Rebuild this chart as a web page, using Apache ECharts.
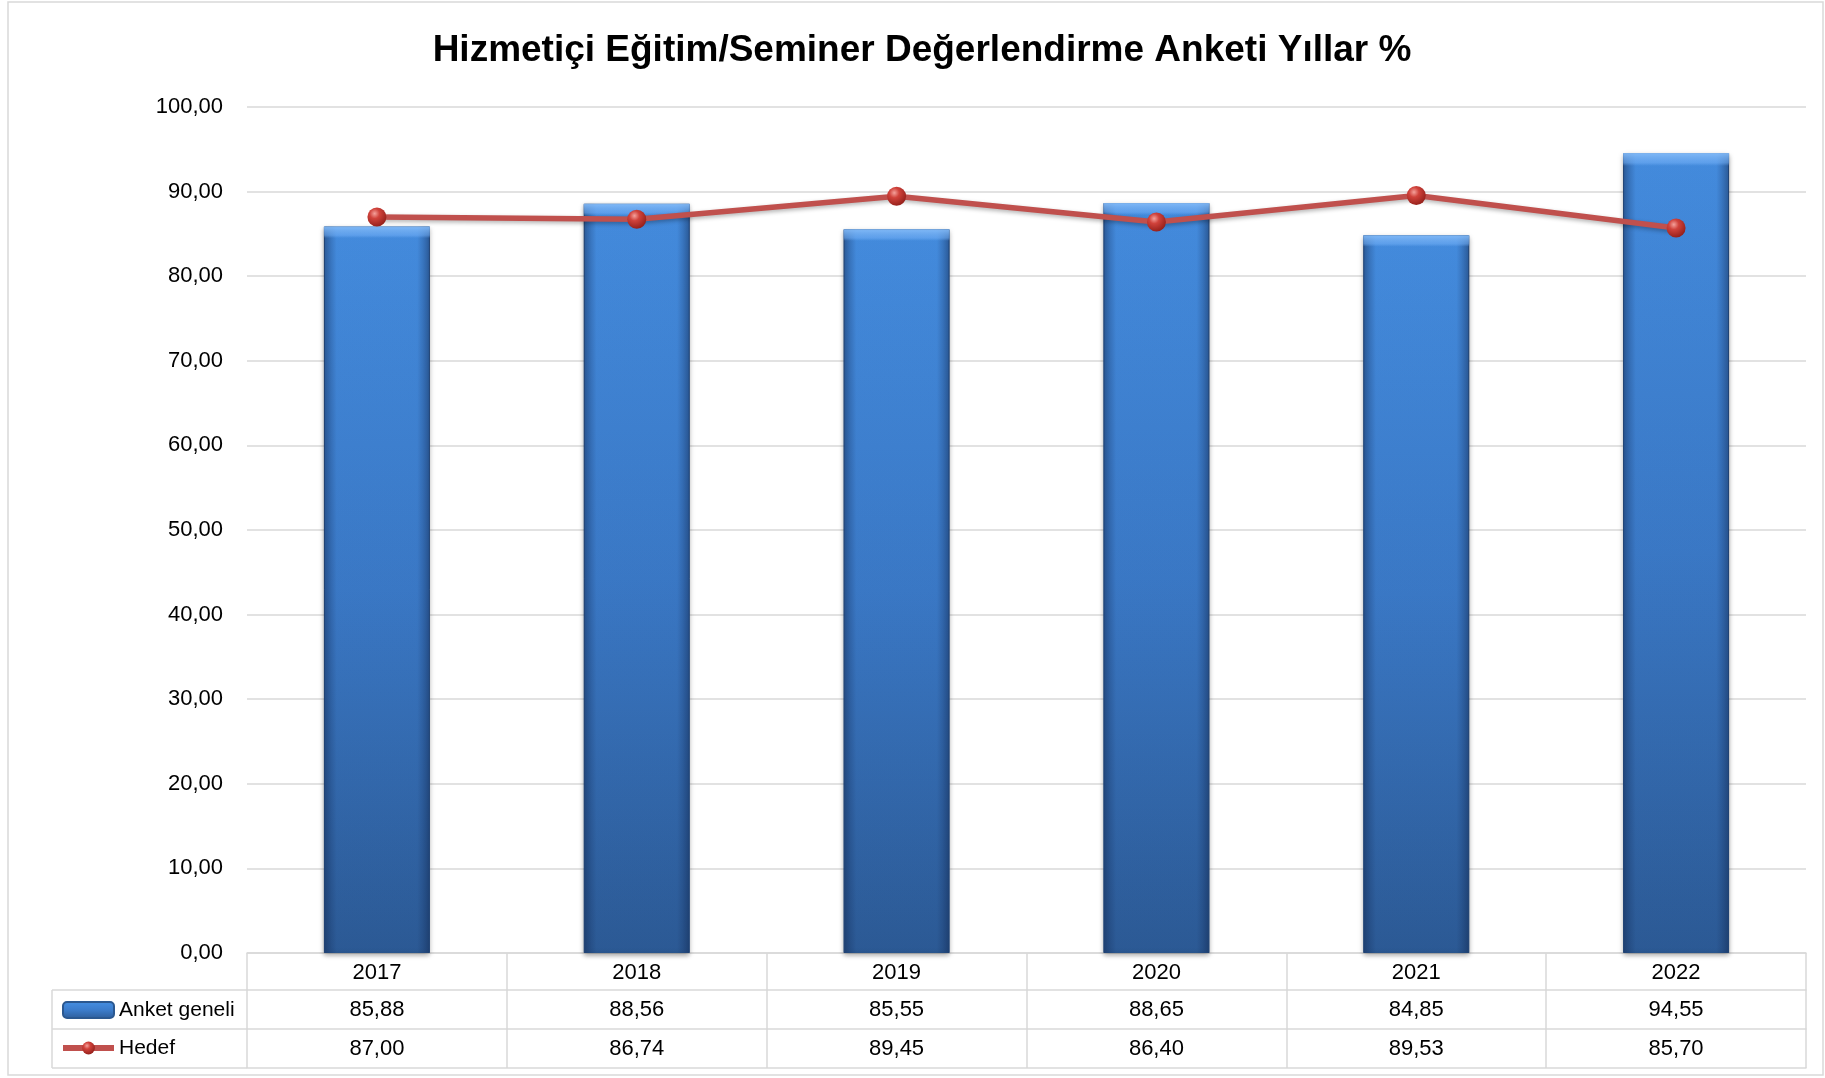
<!DOCTYPE html>
<html><head><meta charset="utf-8">
<script src="https://cdn.jsdelivr.net/npm/echarts@6/dist/echarts.min.js"></script>
<style>html,body{margin:0;padding:0;background:#fff}#c{width:1825px;height:1078px}</style>
</head><body><div id="c"></div>
<script>
const titleText = 'Hizmetiçi Eğitim/Seminer Değerlendirme Anketi Yıllar %';
const years = ['2017','2018','2019','2020','2021','2022'];
const anketGeneli = [85.88, 88.56, 85.55, 88.65, 84.85, 94.55];
const hedef = [87.00, 86.74, 89.45, 86.40, 89.53, 85.70];
const seriesNames = ['Anket geneli', 'Hedef'];

const FONT = '"Liberation Sans", Arial, sans-serif';
const fmt = v => v.toFixed(2).replace('.', ',');
const GRID = '#d9d9d9';
const chart = echarts.init(document.getElementById('c'), null, {renderer:'canvas'});

const barGrad = new echarts.graphic.LinearGradient(0,0,0,1,[
  {offset:0,color:'#4690e4'},{offset:0.5,color:'#3c7ccb'},{offset:1,color:'#2d5c98'}]);
const dotGrad = new echarts.graphic.RadialGradient(0.38,0.32,0.75,[
  {offset:0,color:'#f4a19b'},{offset:0.35,color:'#d0423b'},{offset:1,color:'#8e1c17'}]);

const baseX = {
  type:'category', data: years, position:'bottom', gridIndex:0,
  axisLine:{show:true, lineStyle:{color:GRID, width:1.5}},
  axisTick:{show:false}, splitLine:{show:false}
};

chart.setOption({
  animation:false,
  textStyle:{fontFamily:FONT},
  title:{text:titleText, left:917, top:27, textAlign:'center',
    textStyle:{fontFamily:FONT, fontSize:37, fontWeight:'bold', color:'#000'}},
  grid:{left:247, right:19, top:107, bottom:125},
  legend:{
    data:[
      {name:seriesNames[0]},
      {name:seriesNames[1], itemStyle:{color:dotGrad}, lineStyle:{color:'#c0504d', width:6}}
    ],
    orient:'vertical', left:55, top:994,
    itemWidth:51, itemHeight:16, itemGap:16,
    textStyle:{fontFamily:FONT, fontSize:21, color:'#000', lineHeight:22},
    selectedMode:false
  },
  xAxis:[
    Object.assign({}, baseX, {
      axisTick:{show:true, alignWithLabel:false, interval:0, length:115, lineStyle:{color:GRID, width:1.5}},
      axisLabel:{fontFamily:FONT, fontSize:22, color:'#000', margin:9}
    }),
    Object.assign({}, baseX, {offset:37,
      axisLabel:{fontFamily:FONT, fontSize:22, color:'#000', margin:9, formatter:(v,i)=>fmt(anketGeneli[i])}}),
    Object.assign({}, baseX, {offset:76,
      axisLabel:{fontFamily:FONT, fontSize:22, color:'#000', margin:9, formatter:(v,i)=>fmt(hedef[i])}}),
    Object.assign({}, baseX, {offset:115, axisLabel:{show:false}})
  ],
  yAxis:{type:'value', min:0, max:100, interval:10,
    axisLine:{show:false}, axisTick:{show:false},
    splitLine:{lineStyle:{color:GRID, width:1.5}},
    axisLabel:{fontFamily:FONT, fontSize:22, color:'#000', margin:24, formatter:v=>fmt(v)}
  },
  series:[
    {name:seriesNames[0], type:'bar', data:anketGeneli, barWidth:106, xAxisIndex:0,
      itemStyle:{color:barGrad, borderColor:'#2b5890', borderWidth:1,
        shadowColor:'rgba(0,0,0,0.35)', shadowBlur:5, shadowOffsetY:2}},
    {name:'_overlay', type:'bar', data:anketGeneli, barWidth:106, barGap:'-100%', xAxisIndex:0,
      silent:true, z:3,
      itemStyle:{color:new echarts.graphic.LinearGradient(0,0,1,0,[
        {offset:0,color:'rgba(15,35,75,0.45)'},{offset:0.12,color:'rgba(15,35,75,0.05)'},
        {offset:0.88,color:'rgba(15,35,75,0.05)'},{offset:1,color:'rgba(15,35,75,0.45)'}])}},
    {name:'_bevel', type:'bar', data:anketGeneli, barWidth:106, barGap:'-100%', xAxisIndex:0,
      silent:true, z:4,
      itemStyle:{color:new echarts.graphic.LinearGradient(0,0,0,1,[
        {offset:0,color:'rgba(140,195,255,0.85)'},{offset:0.012,color:'rgba(120,180,250,0.5)'},
        {offset:0.016,color:'rgba(120,180,250,0)'},{offset:1,color:'rgba(120,180,250,0)'}], false)}},
    {name:seriesNames[1], type:'line', data:hedef, xAxisIndex:0, z:5,
      symbol:'circle', symbolSize:19,
      lineStyle:{color:'#c0504d', width:5.5, shadowColor:'rgba(0,0,0,0.3)', shadowBlur:4, shadowOffsetY:2},
      itemStyle:{color:dotGrad, borderWidth:0}}
  ],
  graphic:[
    {type:'rect', shape:{x:8, y:2, width:1815, height:1073}, style:{fill:'none', stroke:GRID, lineWidth:1.5}, silent:true, z:-1},
    {type:'line', shape:{x1:52,y1:990,x2:247,y2:990}, style:{stroke:GRID, lineWidth:1.5}},
    {type:'line', shape:{x1:52,y1:1029,x2:247,y2:1029}, style:{stroke:GRID, lineWidth:1.5}},
    {type:'line', shape:{x1:52,y1:1068,x2:247,y2:1068}, style:{stroke:GRID, lineWidth:1.5}},
    {type:'line', shape:{x1:52,y1:990,x2:52,y2:1068}, style:{stroke:GRID, lineWidth:1.5}}
  ]
});
</script></body></html>
